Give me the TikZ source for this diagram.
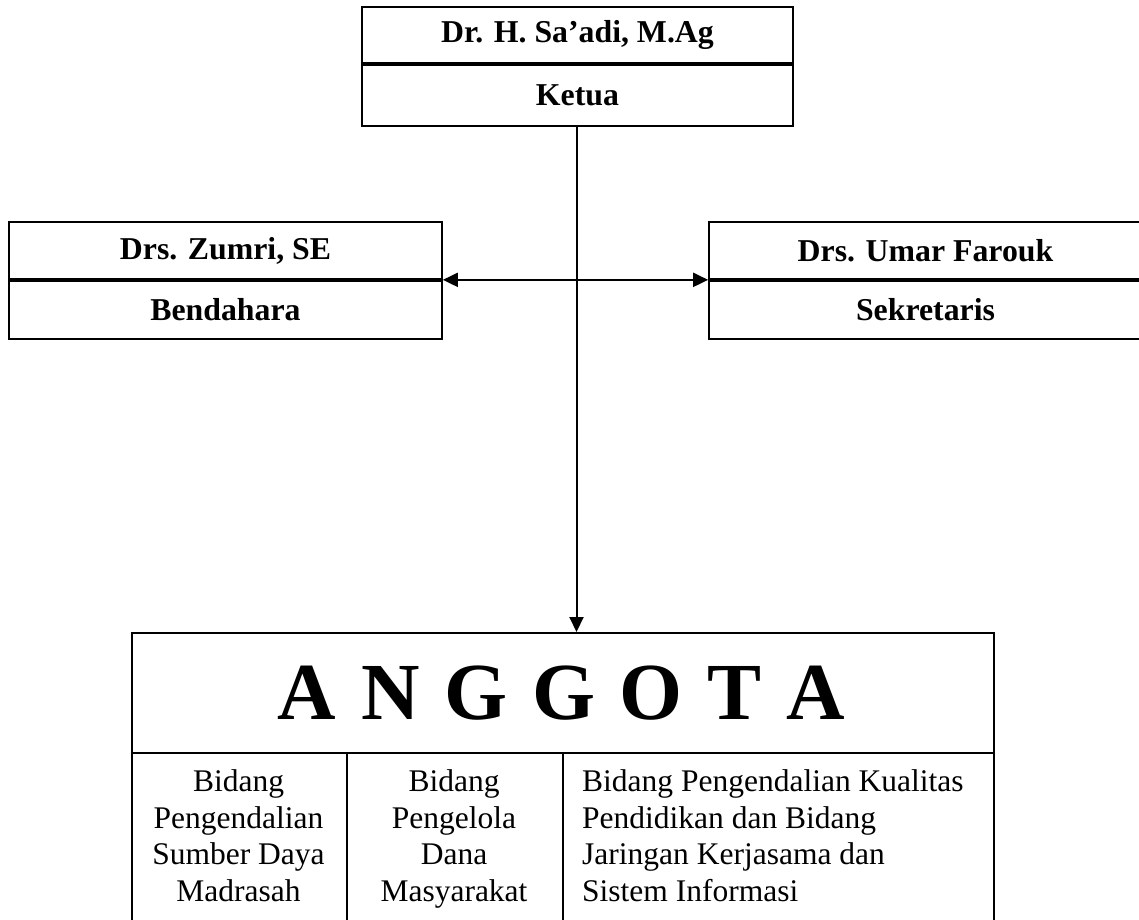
\documentclass[tikz,border=0pt]{standalone}
\usepackage{fontspec}
\setmainfont{Liberation Serif}
\usetikzlibrary{arrows.meta}
\newcommand{\gap}{\hspace{24.8pt}}
\begin{document}
\begin{tikzpicture}[x=1pt,y=-1pt,
  cell/.style={draw,line width=1.7pt,inner sep=0pt,font=\fontsize{31.8}{36}\selectfont\bfseries},
  col/.style={draw,line width=1.7pt,inner sep=0pt,minimum height=190pt,anchor=north west},
  coltext/.style={inner sep=0pt,anchor=north,font=\fontsize{31.5}{36.5}\selectfont},
  link/.style={line width=2pt,-{Triangle[length=15pt,width=14pt]}},
  dlink/.style={line width=2pt,{Triangle[length=15pt,width=14pt]}-{Triangle[length=15pt,width=14pt]}}]
\clip (0,0) rectangle (1139,919);
\fill[white] (0,0) rectangle (1139,919);
% Ketua
\node[cell,minimum width=431pt,minimum height=56pt] (kname) at (577.5,35) {Dr. H. Sa’adi, M.Ag};
\node[cell,minimum width=431pt,minimum height=61pt,anchor=north] (ketua) at (kname.south) {Ketua};
% Bendahara
\node[cell,minimum width=433pt,minimum height=57pt] (bname) at (225.5,250.5) {Drs. Zumri, SE};
\node[cell,minimum width=433pt,minimum height=58pt,anchor=north] (bend) at (bname.south) {Bendahara};
% Sekretaris
\node[cell,minimum width=433pt,minimum height=57pt] (sname) at (925.5,250.5) {Drs. Umar Farouk};
\node[cell,minimum width=433pt,minimum height=58pt,anchor=north] (sekr) at (sname.south) {Sekretaris};
% Anggota
\node[draw,line width=1.7pt,inner sep=0pt,minimum width=862pt,minimum height=120pt,anchor=north west] (angg) at (131,632) {};
\node[inner sep=0pt,font=\fontsize{81}{81}\selectfont\bfseries] (atitle) at (561.5,693) {A\gap N\gap G\gap G\gap O\gap T\gap A};
\node[col,minimum width=215pt] (c1) at (131,752) {};
\node[col,minimum width=216pt] (c2) at (346,752) {};
\node[col,minimum width=431pt] (c3) at (562,752) {};
\node[coltext,align=center] (t1) at (238.5,769.5) {Bidang\\Pengendalian\\Sumber Daya\\Madrasah};
\node[coltext,align=center] (t2) at (454,769.5) {Bidang\\Pengelola\\Dana\\Masyarakat};
\node[coltext,align=left,anchor=north west] (t3) at (582,769.5) {Bidang Pengendalian Kualitas\\Pendidikan dan Bidang\\Jaringan Kerjasama dan\\Sistem Informasi};
% connectors
\coordinate (kbot) at ([xshift=-1pt]ketua.south);
\draw[link] (kbot) -- (kbot |- angg.north);
\draw[dlink] (bname.south east) -- (sname.south west);
\end{tikzpicture}
\end{document}
